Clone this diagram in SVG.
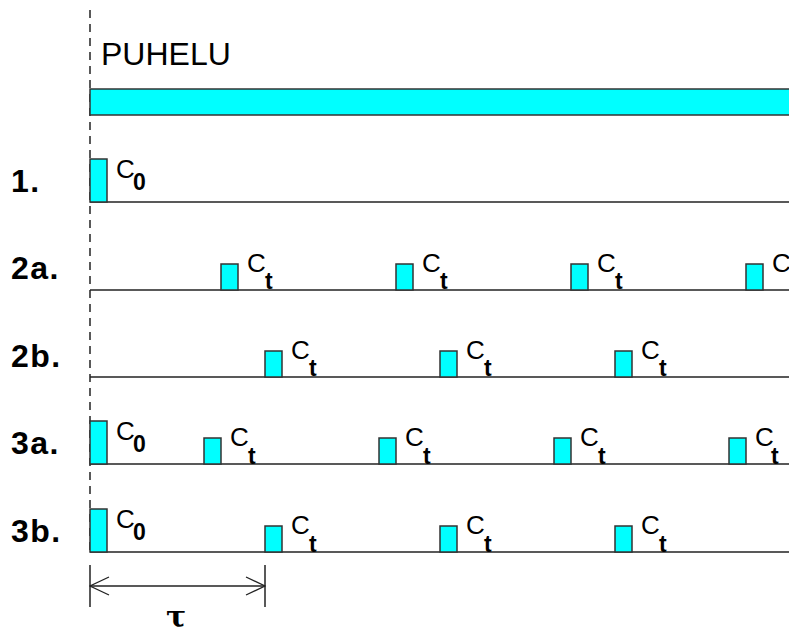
<svg xmlns="http://www.w3.org/2000/svg" width="789" height="633" viewBox="0 0 789 633">
<defs>
<style>
.box{fill:#00FFFF;stroke:#333;stroke-width:1.5}
.line{stroke:#222;stroke-width:1.5;fill:none}
.c{font-family:"Liberation Sans",Arial,sans-serif;font-size:26px;fill:#000}
.s{font-family:"Liberation Sans",Arial,sans-serif;font-size:23px;font-weight:bold;fill:#000}
.lab{font-family:"Liberation Sans",Arial,sans-serif;font-size:32px;font-weight:bold;fill:#000;letter-spacing:1.5px}
</style>
<marker id="ah" viewBox="0 0 21 20" refX="20" refY="10" markerWidth="21" markerHeight="20" markerUnits="userSpaceOnUse" orient="auto-start-reverse">
<path d="M1,1 L20,10 L1,19" fill="none" stroke="#222" stroke-width="1.3"/>
</marker>
</defs>
<rect width="789" height="633" fill="#fff"/>
<g id="connectors">
<line x1="90" y1="10" x2="90" y2="552" stroke="#000" stroke-width="1.3" stroke-dasharray="8,6"/>
<line class="line" x1="90" y1="202" x2="789" y2="202"/>
<line class="line" x1="90" y1="290" x2="789" y2="290"/>
<line class="line" x1="90" y1="377" x2="789" y2="377"/>
<line class="line" x1="90" y1="464" x2="789" y2="464"/>
<line class="line" x1="90" y1="552" x2="789" y2="552"/>
<line class="line" x1="90" y1="565" x2="90" y2="607"/>
<line class="line" x1="265" y1="565" x2="265" y2="607"/>
<line class="line" x1="90" y1="586" x2="265" y2="586" marker-start="url(#ah)" marker-end="url(#ah)"/>
</g>
<g id="puhelu">
<text x="101" y="65" font-family="Liberation Sans, Arial, sans-serif" font-size="32" fill="#000">PUHELU</text>
<rect x="90" y="89" width="705" height="26" class="box"/>
</g>
<g id="row1">
<text class="lab" x="11" y="192">1.</text>
<rect class="box" x="90" y="159" width="17" height="43"/>
<text class="c" x="116" y="178">C</text><text class="s" x="133" y="190">0</text>
</g>
<g id="row2a">
<text class="lab" x="11" y="279">2a.</text>
<rect class="box" x="221" y="264" width="17" height="26"/>
<rect class="box" x="396" y="264" width="17" height="26"/>
<rect class="box" x="571" y="264" width="17" height="26"/>
<rect class="box" x="746" y="264" width="17" height="26"/>
<text class="c" x="247" y="272">C</text><text class="s" x="265" y="289">t</text>
<text class="c" x="422" y="272">C</text><text class="s" x="440" y="289">t</text>
<text class="c" x="597" y="272">C</text><text class="s" x="615" y="289">t</text>
<text class="c" x="772" y="272">C</text>
</g>
<g id="row2b">
<text class="lab" x="11" y="367">2b.</text>
<rect class="box" x="265" y="351" width="17" height="26"/>
<rect class="box" x="440" y="351" width="17" height="26"/>
<rect class="box" x="615" y="351" width="17" height="26"/>
<text class="c" x="291" y="359">C</text><text class="s" x="309" y="376">t</text>
<text class="c" x="466" y="359">C</text><text class="s" x="484" y="376">t</text>
<text class="c" x="641" y="359">C</text><text class="s" x="659" y="376">t</text>
</g>
<g id="row3a">
<text class="lab" x="11" y="454">3a.</text>
<rect class="box" x="90" y="421" width="17" height="43"/>
<text class="c" x="116" y="440">C</text><text class="s" x="133" y="452">0</text>
<rect class="box" x="204" y="438" width="17" height="26"/>
<rect class="box" x="379" y="438" width="17" height="26"/>
<rect class="box" x="554" y="438" width="17" height="26"/>
<rect class="box" x="729" y="438" width="17" height="26"/>
<text class="c" x="230" y="446">C</text><text class="s" x="248" y="464">t</text>
<text class="c" x="405" y="446">C</text><text class="s" x="423" y="464">t</text>
<text class="c" x="580" y="446">C</text><text class="s" x="598" y="464">t</text>
<text class="c" x="755" y="446">C</text><text class="s" x="771" y="464">t</text>
</g>
<g id="row3b">
<text class="lab" x="11" y="542">3b.</text>
<rect class="box" x="90" y="509" width="17" height="43"/>
<text class="c" x="116" y="528">C</text><text class="s" x="133" y="540">0</text>
<rect class="box" x="265" y="526" width="17" height="26"/>
<rect class="box" x="440" y="526" width="17" height="26"/>
<rect class="box" x="615" y="526" width="17" height="26"/>
<text class="c" x="291" y="534">C</text><text class="s" x="309" y="552">t</text>
<text class="c" x="466" y="534">C</text><text class="s" x="484" y="552">t</text>
<text class="c" x="641" y="534">C</text><text class="s" x="659" y="552">t</text>
</g>
<g id="tau">
<text x="176" y="627" text-anchor="middle" font-family="DejaVu Serif, serif" font-size="30" font-weight="bold" fill="#000">τ</text>
</g>
</svg>
